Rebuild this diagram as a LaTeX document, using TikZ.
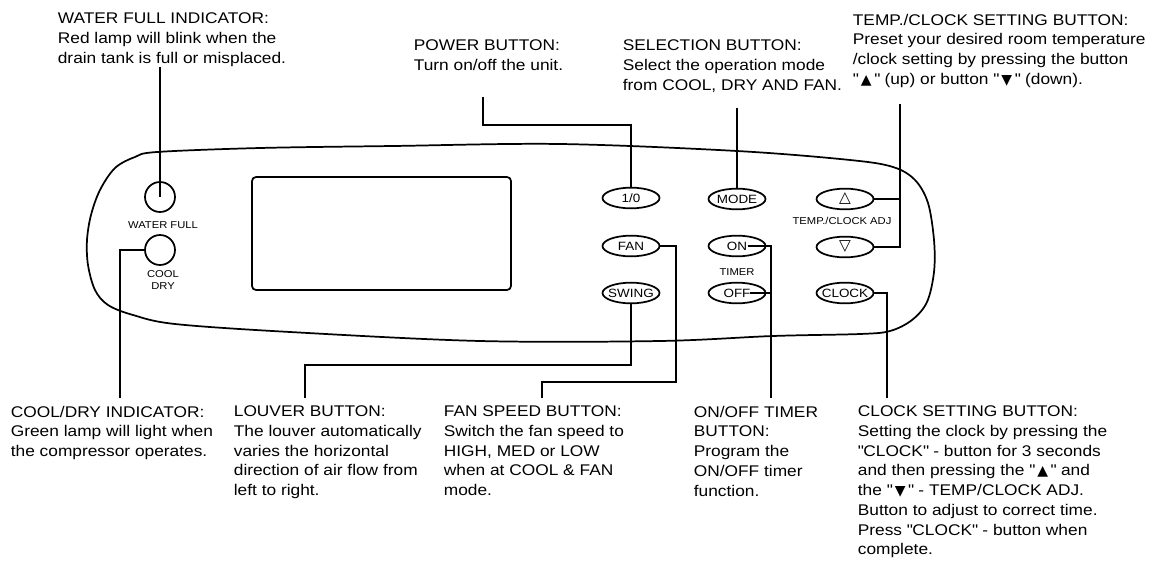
\documentclass[tikz,border=0pt]{standalone}
\usepackage{fontspec}
\usetikzlibrary{shapes.geometric}
\setmainfont{Liberation Sans}[FakeStretch=1.12]
\newfontfamily\symfont{DejaVu Sans}
\newcommand{\qq}{\textquotedbl}
\newcommand{\triup}{{\symfont\fontsize{10.5}{10}\selectfont ▲}}
\newcommand{\tridown}{{\symfont\fontsize{10.5}{10}\selectfont ▼}}
\newcommand{\hollowup}{{\symfont\fontsize{11.5}{11}\selectfont △}}
\newcommand{\hollowdown}{{\symfont\fontsize{11.5}{11}\selectfont ▽}}
\begin{document}
\begin{tikzpicture}[x=0.75pt,y=-0.75pt,line width=1.3pt,
  lab/.style={anchor=north west,inner sep=0pt,align=left,font=\fontsize{11.6}{14.8}\selectfont},
  btn/.style={draw,ellipse,inner xsep=-5pt,inner ysep=0pt,minimum width=42.75pt,minimum height=15.5pt,font=\fontsize{9}{9}\selectfont},
  lamp/.style={draw,circle,inner sep=0pt,minimum size=22.5pt},
  small/.style={inner sep=0pt,align=center,font=\fontsize{7.5}{8.4}\selectfont},
  wire/.style={line width=1.3pt}]
\useasboundingbox (0,0) rectangle (1155,581);
% panel outline
\draw plot[smooth cycle,tension=0.55] coordinates {
 (157,152) (260,148) (393,146) (560,144) (737,151) (850,160) (893,167) (915,180)
 (928,203) (934,240) (934,272) (927,302) (912,320) (890,331) (860,334) (773,336)
 (660,341) (480,341) (290,332) (175,324) (133,315) (108,305) (95,290) (88,265)
 (87,240) (91,215) (100,190) (115,168) (135,157)};
% display
\node[draw,rounded corners=3pt,minimum width=194.25pt,minimum height=84.75pt,inner sep=0pt] (lcd) at (381.5,233.5) {};
% lamps
\node[lamp] (wf) at (160,197) {};
\node[lamp] (cd) at (160,250) {};
\node[small] (wflab) at (163,225) {WATER FULL};
\node[small] (cdlab) at (163,280) {COOL\\DRY};
% buttons
\node[btn] (pw) at (631,198) {1/0};
\node[btn] (mode) at (737,199) {MODE};
\node[btn] (up) at (845,199) {\hollowup};
\node[btn] (fan) at (631,246) {FAN};
\node[btn] (on) at (737,246) {ON};
\node[btn] (down) at (845,247) {\hollowdown};
\node[btn] (swing) at (631,293) {SWING};
\node[btn] (off) at (737,293) {OFF};
\node[btn] (clock) at (845,293) {CLOCK};
\node[small] (tclab) at (842,221) {TEMP./CLOCK ADJ};
\node[small] (timerlab) at (737,272) {TIMER};
% labels
\node[lab] (wfl) at (57,12) {WATER FULL INDICATOR:\\Red lamp will blink when the\\drain tank is full or misplaced.};
\node[lab] (pwl) at (413,39) {POWER BUTTON:\\Turn on/off the unit.};
\node[lab] (sell) at (622,39) {SELECTION BUTTON:\\Select the operation mode\\from COOL, DRY AND FAN.};
\node[lab] (tpl) at (852,13) {TEMP./CLOCK SETTING BUTTON:\\Preset your desired room temperature\\/clock setting by pressing the button\\\qq\,\triup\,\qq\ (up) or button \qq\,\tridown\,\qq\ (down).};
\node[lab] (cdl) at (10,405) {COOL/DRY INDICATOR:\\Green lamp will light when\\the compressor operates.};
\node[lab] (lvl) at (233,405) {LOUVER BUTTON:\\The louver automatically\\varies the horizontal\\direction of air flow from\\left to right.};
\node[lab] (fsl) at (443,405) {FAN SPEED BUTTON:\\Switch the fan speed to\\HIGH, MED or LOW\\when at COOL \& FAN\\mode.};
\node[lab] (tml) at (693,405) {ON/OFF TIMER\\BUTTON:\\Program the\\ON/OFF timer\\function.};
\node[lab] (ckl) at (857,405) {CLOCK SETTING BUTTON:\\Setting the clock by pressing the\\\qq CLOCK\qq\ - button for 3 seconds\\and then pressing the \qq\,\triup\,\qq\ and\\the \qq\,\tridown\,\qq\ - TEMP/CLOCK ADJ.\\Button to adjust to correct time.\\Press \qq CLOCK\qq\ - button when\\complete.};
% connectors
\coordinate (wftop) at (160,67);
\draw[wire] (wftop) -- (wf.center);
\coordinate (cdbot) at (120,398);
\draw[wire] (cd.west) -| (cdbot);
\coordinate (pwtop) at (483,97);
\coordinate (pwbend) at (631,125);
\draw[wire] (pwtop) |- (pwbend) -- (pw.north);
\coordinate (mdtop) at (737,108);
\draw[wire] (mdtop) -- (mode.north);
\coordinate (tptop) at (900,104);
\draw[wire] (tptop) |- (down.east);
\draw[wire] (up.east) -- (up.east -| tptop);
\coordinate (fanbend) at (676,382);
\coordinate (fanbot) at (542,398);
\draw[wire] (fan.east) -| (fanbend) -| (fanbot);
\coordinate (swbend) at (305,365);
\coordinate (swbot) at (305,398);
\draw[wire] (swing.south) |- (swbend) -- (swbot);
\coordinate (tmbot) at (771,398);
\coordinate (onst) at ([xshift=8pt]on.center);
\coordinate (offst) at ([xshift=10pt]off.center);
\draw[wire] (onst) -| (tmbot);
\draw[wire] (offst) -- (offst -| tmbot);
\coordinate (ckbot) at (887,398);
\draw[wire] (clock.east) -| (ckbot);
\end{tikzpicture}
\end{document}
